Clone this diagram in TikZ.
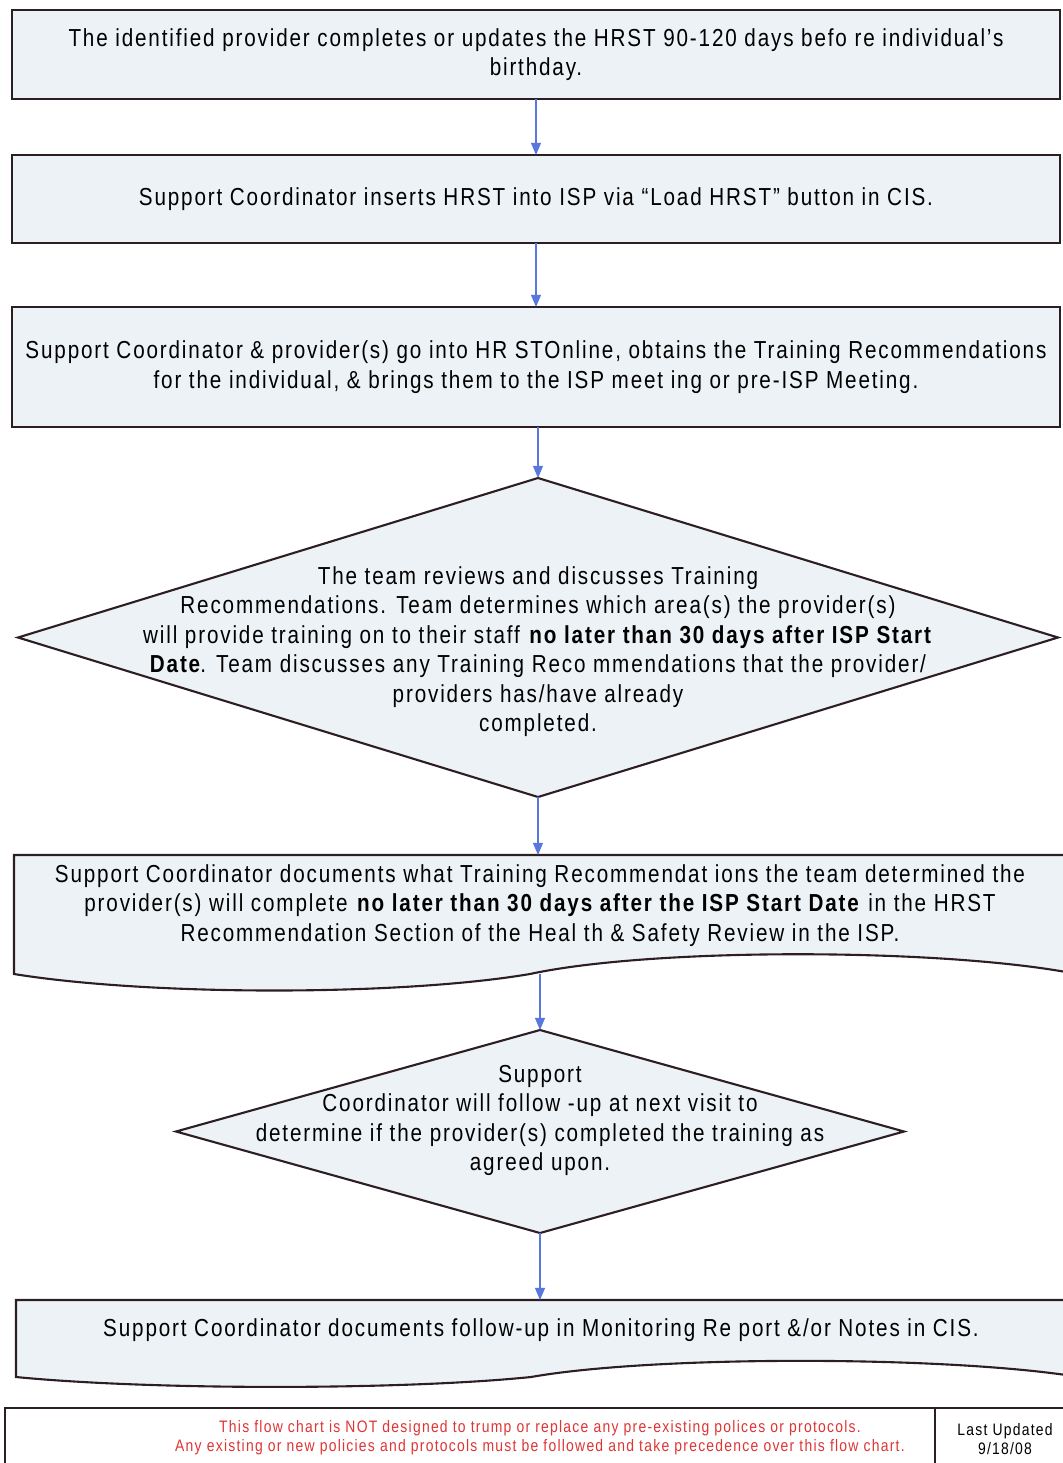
\documentclass[tikz,border=0pt]{standalone}
\usepackage{fontspec}
\setmainfont{Liberation Sans}[FakeStretch=0.84,LetterSpace=7.5]
\usepackage{tikz}
\usetikzlibrary{shapes.geometric, arrows, calc, positioning, backgrounds}
\definecolor{boxfill}{RGB}{237,242,246}
\definecolor{boxline}{RGB}{45,30,35}
\definecolor{flowblue}{RGB}{88,120,222}
\definecolor{noticered}{RGB}{222,52,52}
\tikzstyle{process} = [rectangle, line width=1.5pt, draw=boxline, fill=boxfill, minimum width=26.2cm, inner sep=0pt, outer sep=0pt, align=center, font=\fontsize{17.5}{21}\selectfont]
\tikzstyle{decision} = [diamond, line width=1.5pt, draw=boxline, fill=boxfill, inner sep=0pt, outer sep=0pt]
\tikzstyle{record} = [rectangle, inner sep=0pt, outer sep=0pt, minimum width=26.3cm]
\tikzstyle{words} = [align=center, inner sep=0pt, font=\fontsize{17.5}{21}\selectfont]
\tikzstyle{footbox} = [rectangle, line width=0.8pt, draw=boxline, inner sep=0pt, outer sep=0pt, align=center, font=\fontsize{11.8}{13.5}\selectfont]
\tikzstyle{arrow} = [line width=1pt, draw=flowblue, ->, >=triangle 45]
% document shape: flat top, wavy bottom
\newcommand{\recordoutline}[3]{%
	\filldraw [line width=1.5pt, draw=boxline, fill=boxfill] (#1.north west) -- (#1.north east) -- ($(#1.south east)+(0,0.05)$)
	.. controls ($(#1.south)+(9.75,#2)$) and ($(#1.south)+(2.75,#2)$) .. ($(#1.south)+(-0.25,0)$)
	.. controls ($(#1.south)+(-3.5,-#3)$) and ($(#1.south)+(-9.75,-#3)$) .. (#1.south west) -- cycle;}

\begin{document}
\begin{tikzpicture}
	\useasboundingbox (0,0) rectangle (26.55,-36.575);
	\node (identify) [process, minimum height=2.225cm] at (13.4,-1.3625) {The identified provider completes or updates the HRST 90-120 days befo re individual’s\\birthday.};
	\node (loadHRST) [process, minimum height=2.2cm, below = 1.4cm of identify] {Support Coordinator inserts HRST into ISP via “Load HRST” button in CIS.};
	\node (obtain) [process, minimum height=3cm, below = 1.6cm of loadHRST] {Support Coordinator \& provider(s) go into HR STOnline, obtains the Training Recommendations\\for the individual, \& brings them to the ISP meet ing or pre-ISP Meeting.};
	\node (review) [decision, minimum width=26cm, minimum height=7.975cm, below = 1.275cm of obtain, xshift=0.05cm] {};
	\node (reviewText) [words] at ([yshift=-0.35cm]review.center) {The team reviews and discusses Training\\
		Recommendations. Team determines which area(s) the provider(s)\\
		will provide training on to their staff \textbf{no later than 30 days after ISP Start}\\
		\textbf{Date}. Team discusses any Training Reco mmendations that the provider/\\
		providers has/have already\\
		completed.};
	\node (record) [record, minimum height=2.975cm, below = 1.45cm of review, xshift=0.05cm] {};
	\node (recordText) [words] at ([yshift=0.225cm]record.center) {Support Coordinator documents what Training Recommendat ions the team determined the\\
		provider(s) will complete \textbf{no later than 30 days after the ISP Start Date} in the HRST\\
		Recommendation Section of the Heal th \& Safety Review in the ISP.};
	\node (followup) [decision, minimum width=18.2cm, minimum height=5.075cm, below = 1.4cm of record] {};
	\node (followText) [words] at ([yshift=0.28cm]followup.center) {Support\\
		Coordinator will follow -up at next visit to\\
		determine if the provider(s) completed the training as\\
		agreed upon.};
	\node (notes) [record, minimum width=26.25cm, minimum height=1.925cm, below = 1.675cm of followup, xshift=0.025cm] {};
	\node (notesText) [words] at ([yshift=0.2cm]notes.center) {Support Coordinator documents follow-up in Monitoring Re port \&/or Notes in CIS.};
	\begin{scope}[on background layer]
		\recordoutline{record}{0.65}{0.55}
		\recordoutline{notes}{0.53}{0.33}
	\end{scope}
	\node (disclaimer) [footbox, minimum width=23.25cm, minimum height=1.55cm, below = 0.775cm of notes.south west, anchor=north west, xshift=-0.275cm] {};
	\node (disclaimerText) [footbox, draw=none, text=noticered] at ([xshift=1.75cm, yshift=0.03cm]disclaimer.center) {This flow chart is NOT designed to trump or replace any pre-existing polices or protocols.\\
		Any existing or new policies and protocols must be followed and take precedence over this flow chart.};
	\node (dateBox) [footbox, minimum width=3.5cm, minimum height=1.55cm, right = 0pt of disclaimer] {Last Updated\\9/18/08};
	\draw [arrow] (identify) -- (loadHRST);
	\draw [arrow] (loadHRST) -- (obtain);
	\draw [arrow] (review.north |- obtain.south) -- (review.north);
	\draw [arrow] (review.south) -- (review.south |- record.north);
	\draw [arrow] (record.south) -- (followup.north);
	\draw [arrow] (followup.south) -- (followup.south |- notes.north);
\end{tikzpicture}
\end{document}
